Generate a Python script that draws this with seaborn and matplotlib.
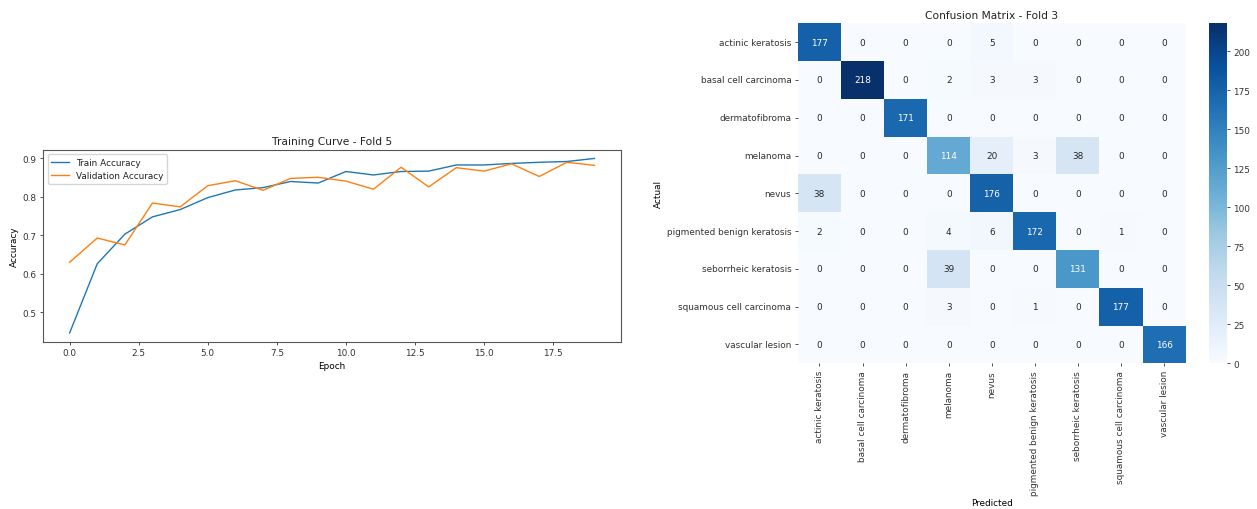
import numpy as np
import pandas as pd
import matplotlib
matplotlib.use("Agg")
import matplotlib.pyplot as plt
import seaborn as sns

# Per-epoch accuracy for fold 5
epochs = list(range(20))
train_acc = [0.446, 0.626, 0.703, 0.748, 0.767, 0.798, 0.818, 0.824, 0.840, 0.836,
             0.866, 0.857, 0.866, 0.867, 0.883, 0.883, 0.887, 0.890, 0.892, 0.900]
val_acc = [0.630, 0.693, 0.675, 0.784, 0.774, 0.829, 0.842, 0.817, 0.848, 0.851,
           0.841, 0.820, 0.877, 0.826, 0.876, 0.867, 0.886, 0.853, 0.890, 0.882]

# Confusion matrix for fold 3
class_names = ["actinic keratosis", "basal cell carcinoma", "dermatofibroma", "melanoma",
               "nevus", "pigmented benign keratosis", "seborrheic keratosis",
               "squamous cell carcinoma", "vascular lesion"]
conf_rows = [
    [177, 0, 0, 0, 5, 0, 0, 0, 0],
    [0, 218, 0, 2, 3, 3, 0, 0, 0],
    [0, 0, 171, 0, 0, 0, 0, 0, 0],
    [0, 0, 0, 114, 20, 3, 38, 0, 0],
    [38, 0, 0, 0, 176, 0, 0, 0, 0],
    [2, 0, 0, 4, 6, 172, 0, 1, 0],
    [0, 0, 0, 39, 0, 0, 131, 0, 0],
    [0, 0, 0, 3, 0, 1, 0, 177, 0],
    [0, 0, 0, 0, 0, 0, 0, 0, 166],
]

fs = 6.4
plt.rcParams["font.family"] = ["DejaVu Sans"]
plt.rcParams["font.size"] = fs
plt.rcParams["axes.titlesize"] = 7.7
plt.rcParams["axes.labelsize"] = fs
plt.rcParams["xtick.labelsize"] = fs
plt.rcParams["ytick.labelsize"] = fs
plt.rcParams["legend.fontsize"] = fs
plt.rcParams["lines.linewidth"] = 1.0
plt.rcParams["axes.linewidth"] = 0.8
plt.rcParams["axes.edgecolor"] = "#555555"
plt.rcParams["axes.labelpad"] = 2.5
plt.rcParams["axes.titlepad"] = 4.0
plt.rcParams["text.color"] = "#222222"
plt.rcParams["xtick.color"] = "#333333"
plt.rcParams["ytick.color"] = "#333333"
for ax_name in ("xtick", "ytick"):
    plt.rcParams[f"{ax_name}.major.size"] = 2.4
    plt.rcParams[f"{ax_name}.major.pad"] = 2.4
    plt.rcParams[f"{ax_name}.major.width"] = 0.6

fig = plt.figure(figsize=(12.57, 5.10), dpi=100)

# Training curve
ax1 = fig.add_axes([0.0345, 0.328, 0.4593, 0.3765])
curve = pd.DataFrame({"Epoch": epochs, "train": train_acc, "val": val_acc})
sns.lineplot(data=curve, x="Epoch", y="train", ax=ax1, color="#1f77b4", label="Train Accuracy")
sns.lineplot(data=curve, x="Epoch", y="val", ax=ax1, color="#ff7f0e", label="Validation Accuracy")
ax1.set_title("Training Curve - Fold 5")
ax1.set_xlabel("Epoch")
ax1.set_ylabel("Accuracy")
ax1.legend(loc="upper left")

# Confusion matrix heatmap
ax2 = fig.add_axes([0.6348, 0.2857, 0.3084, 0.6667])
cax = fig.add_axes([0.9621, 0.2857, 0.0138, 0.6667])
cm = pd.DataFrame(np.array(conf_rows), index=class_names, columns=class_names)
sns.heatmap(cm, annot=True, fmt="d", cmap="Blues", ax=ax2, cbar_ax=cax,
            annot_kws={"fontsize": fs})
ax2.set_title("Confusion Matrix - Fold 3")
ax2.set_xlabel("Predicted")
ax2.set_ylabel("Actual")
ax2.set_xticklabels(class_names, rotation=90)
ax2.set_yticklabels(class_names, rotation=0)
cax.set_yticks([0, 25, 50, 75, 100, 125, 150, 175, 200])
cax.tick_params(labelsize=fs)

fig.savefig("out.png", dpi=100)
